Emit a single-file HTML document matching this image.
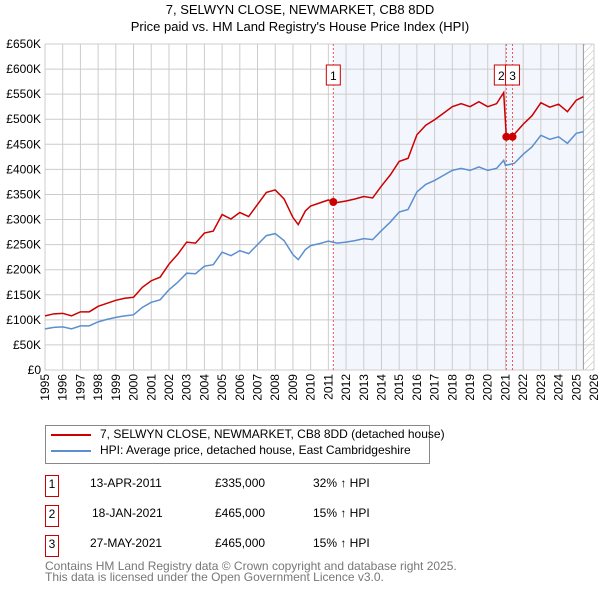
<!DOCTYPE html>
<html><head><meta charset="utf-8"><style>
body{margin:0;width:600px;height:590px;background:#fff;font-family:"Liberation Sans","DejaVu Sans",sans-serif;overflow:hidden;position:relative}
.t{position:absolute;font-size:12px;color:#000;white-space:nowrap}
.box{position:absolute;border:1px solid #c00;width:12px;height:20px;font-size:12px;text-align:center;line-height:17px;box-sizing:content-box}
</style></head><body>
<div class="t" style="left:0;width:600px;text-align:center;top:2px;font-size:13px">7, SELWYN CLOSE, NEWMARKET, CB8 8DD</div>
<div class="t" style="left:0;width:600px;text-align:center;top:19px;font-size:13px">Price paid vs. HM Land Registry's House Price Index (HPI)</div>
<svg id="chart" width="600" height="400" style="position:absolute;left:0;top:0"></svg>
<div style="position:absolute;left:45px;top:425px;width:383px;height:37px;border:1px solid #888"></div>
<div style="position:absolute;left:51px;top:434px;width:40px;height:2px;background:#c00"></div>
<div class="t" style="left:100px;top:427px">7, SELWYN CLOSE, NEWMARKET, CB8 8DD (detached house)</div>
<div style="position:absolute;left:51px;top:450px;width:40px;height:2px;background:#5b8fd0"></div>
<div class="t" style="left:100px;top:443px">HPI: Average price, detached house, East Cambridgeshire</div>
<div class="box" style="left:45px;top:475px">1</div>
<div class="t" style="left:90px;top:476px">13-APR-2011</div>
<div class="t" style="left:215px;top:476px">£335,000</div>
<div class="t" style="left:313px;top:476px">32% ↑ HPI</div>
<div class="box" style="left:45px;top:505px">2</div>
<div class="t" style="left:92px;top:506px">18-JAN-2021</div>
<div class="t" style="left:215px;top:506px">£465,000</div>
<div class="t" style="left:313px;top:506px">15% ↑ HPI</div>
<div class="box" style="left:45px;top:535px">3</div>
<div class="t" style="left:90px;top:536px">27-MAY-2021</div>
<div class="t" style="left:215px;top:536px">£465,000</div>
<div class="t" style="left:313px;top:536px">15% ↑ HPI</div>
<div class="t" style="left:45px;top:561px;color:#777;line-height:11px">Contains HM Land Registry data © Crown copyright and database right 2025.<br>This data is licensed under the Open Government Licence v3.0.</div>
<script>
const hpiYears=[1995,1995.5,1996,1996.5,1997,1997.5,1998,1998.5,1999,1999.5,2000,2000.5,2001,2001.5,2002,2002.5,2003,2003.5,2004,2004.5,2005,2005.5,2006,2006.5,2007,2007.5,2008,2008.5,2009,2009.3,2009.7,2010,2010.5,2011,2011.5,2012,2012.5,2013,2013.5,2014,2014.5,2015,2015.5,2016,2016.5,2017,2017.5,2018,2018.5,2019,2019.5,2020,2020.5,2020.9,2021,2021.5,2022,2022.5,2023,2023.5,2024,2024.5,2025,2025.4];
const hpiValues=[82,85,86,82,88,88,96,101,105,108,110,125,135,140,160,175,193,192,207,210,235,228,238,232,250,268,272,258,230,220,240,248,252,257,253,255,258,262,260,278,295,315,320,355,370,378,388,398,402,398,405,398,402,418,408,412,430,445,468,460,465,452,472,475];
const priceYears=[1995,1995.5,1996,1996.5,1997,1997.5,1998,1998.5,1999,1999.5,2000,2000.5,2001,2001.5,2002,2002.5,2003,2003.5,2004,2004.5,2005,2005.5,2006,2006.5,2007,2007.5,2008,2008.5,2009,2009.3,2009.7,2010,2010.5,2011,2011.28,2011.5,2012,2012.5,2013,2013.5,2014,2014.5,2015,2015.5,2016,2016.5,2017,2017.5,2018,2018.5,2019,2019.5,2020,2020.5,2020.9,2021.05,2021.4,2021.5,2022,2022.5,2023,2023.5,2024,2024.5,2025,2025.4];
const priceValues=[108,112,113,108,116,116,127,133,139,143,145,165,178,185,211,231,255,253,273,277,310,301,314,306,330,354,359,341,304,290,317,327,333,339,335,334,337,341,346,343,367,389,416,422,469,488,499,512,525,531,525,535,525,531,553,465,465,470,490,507,533,524,530,515,538,545];
const saleYears=[2011.28,2021.05,2021.4];
const saleValues=[335,465,465];
const saleLabels=["1","2","3"];
const yTicks=[0,50,100,150,200,250,300,350,400,450,500,550,600,650];
const xTicks=[1995,1996,1997,1998,1999,2000,2001,2002,2003,2004,2005,2006,2007,2008,2009,2010,2011,2012,2013,2014,2015,2016,2017,2018,2019,2020,2021,2022,2023,2024,2025,2026];
const X0=45,X1=594,Y0=370,Y1=44;
const sx=y=>X0+(y-1995)/(2026-1995)*(X1-X0);
const sy=v=>Y0-v/650*(Y0-Y1);
const svg=document.getElementById('chart');
const NS='http://www.w3.org/2000/svg';
function mk(t,a,p){const e=document.createElementNS(NS,t);for(const k in a)e.setAttribute(k,a[k]);(p||svg).appendChild(e);return e;}
const defs=mk('defs',{});
const pat=mk('pattern',{id:'hatch',width:5,height:5,patternUnits:'userSpaceOnUse',patternTransform:'rotate(45)'},defs);
mk('line',{x1:0,y1:0,x2:0,y2:5,stroke:'#bbb','stroke-width':1},pat);
const shade=mk('rect',{x:sx(2011.28),y:Y1,width:sx(2025.4)-sx(2011.28),height:Y0-Y1,fill:'#eef3fc',opacity:0.7});

const hatch=mk('rect',{x:sx(2025.4),y:Y1,width:X1-sx(2025.4),height:Y0-Y1,fill:'url(#hatch)'});

yTicks.forEach(v=>{
 const l=mk('line',{x1:X0,x2:X1,y1:sy(v),y2:sy(v),stroke:'#ccc','stroke-width':1});
 
 const t=mk('text',{x:X0-4,y:sy(v)+4,'text-anchor':'end','font-size':12,'font-family':'Liberation Sans, sans-serif'});
 t.textContent='£'+(v===0?'0':v+'K');
 
});
xTicks.forEach(y=>{
 const l=mk('line',{x1:sx(y),x2:sx(y),y1:Y1,y2:Y0,stroke:'#ccc','stroke-width':1});
 
 const t=mk('text',{x:sx(y)+4,y:Y0+4,'text-anchor':'end','font-size':12,'font-family':'Liberation Sans, sans-serif',transform:'rotate(-90 '+(sx(y)+4)+' '+(Y0+4)+')'});
 t.textContent=y;
 
});
const endl=mk('line',{x1:sx(2025.4),x2:sx(2025.4),y1:Y1,y2:Y0,stroke:'#999','stroke-width':1});

const ax=mk('polyline',{points:`${X0},${Y1} ${X0},${Y0} ${X1},${Y0}`,fill:'none',stroke:'#ccc'});

saleYears.forEach((y,i)=>{
 const l=mk('line',{x1:sx(y),x2:sx(y),y1:Y1,y2:Y0,stroke:'#e55','stroke-width':1,'stroke-dasharray':'2,2'});
 
});
const hp=mk('path',{d:hpiYears.map((y,i)=>(i?'L':'M')+sx(y)+','+sy(hpiValues[i])).join(''),fill:'none',stroke:'#5b8fd0','stroke-width':1.5});

const pp=mk('path',{d:priceYears.map((y,i)=>(i?'L':'M')+sx(y)+','+sy(priceValues[i])).join(''),fill:'none',stroke:'#c00','stroke-width':1.5});

saleYears.forEach((y,i)=>{
 const c=mk('circle',{cx:sx(y),cy:sy(saleValues[i]),r:4,fill:'#c00'});
 
 const bx=sx(y)-(i===1?12:7);
 const r=mk('rect',{x:bx,y:65,width:14,height:20,fill:'#fff',stroke:'#c00'});
 
 const t=mk('text',{x:bx+7,y:80,'text-anchor':'middle','font-size':12,'font-family':'Liberation Sans, sans-serif'});
 t.textContent=saleLabels[i];
 
});
</script>
</body></html>
